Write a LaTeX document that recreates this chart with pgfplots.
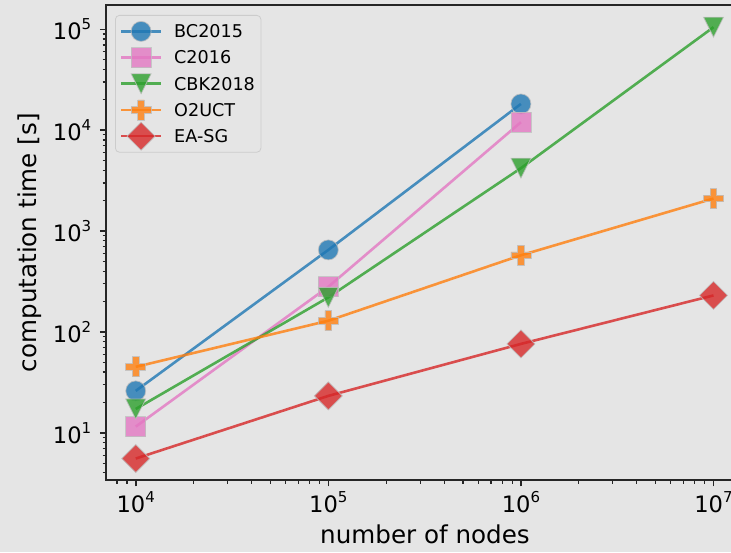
\documentclass[border=0pt]{standalone}
\usepackage{fontspec}
\setmainfont{DejaVu Sans}
\usepackage{pgfplots}
\pgfplotsset{compat=1.18}
\definecolor{bg}{RGB}{229,229,229}
\definecolor{cblue}{HTML}{1F77B4}
\definecolor{cpink}{HTML}{E377C2}
\definecolor{cgreen}{HTML}{2CA02C}
\definecolor{corange}{HTML}{FF7F0E}
\definecolor{cred}{HTML}{D62728}

\pgfdeclareplotmark{mplP}{%
  \pgfmathsetlengthmacro\pa{\pgfplotmarksize}%
  \pgfmathsetlengthmacro\pb{\pgfplotmarksize/3}%
  \pgfpathmoveto{\pgfqpoint{-\pb}{\pa}}%
  \pgfpathlineto{\pgfqpoint{\pb}{\pa}}%
  \pgfpathlineto{\pgfqpoint{\pb}{\pb}}%
  \pgfpathlineto{\pgfqpoint{\pa}{\pb}}%
  \pgfpathlineto{\pgfqpoint{\pa}{-\pb}}%
  \pgfpathlineto{\pgfqpoint{\pb}{-\pb}}%
  \pgfpathlineto{\pgfqpoint{\pb}{-\pa}}%
  \pgfpathlineto{\pgfqpoint{-\pb}{-\pa}}%
  \pgfpathlineto{\pgfqpoint{-\pb}{-\pb}}%
  \pgfpathlineto{\pgfqpoint{-\pa}{-\pb}}%
  \pgfpathlineto{\pgfqpoint{-\pa}{\pb}}%
  \pgfpathlineto{\pgfqpoint{-\pb}{\pb}}%
  \pgfpathclose\pgfusepathqfillstroke}
\pgfdeclareplotmark{mplv}{%
  \pgfmathsetlengthmacro\pa{\pgfplotmarksize}%
  \pgfpathmoveto{\pgfqpoint{0pt}{-\pa}}%
  \pgfpathlineto{\pgfqpoint{-\pa}{\pa}}%
  \pgfpathlineto{\pgfqpoint{\pa}{\pa}}%
  \pgfpathclose\pgfusepathqfillstroke}
\pgfdeclareplotmark{mplD}{%
  \pgfmathsetlengthmacro\pa{\pgfplotmarksize}%
  \pgfpathmoveto{\pgfqpoint{0pt}{\pa}}%
  \pgfpathlineto{\pgfqpoint{\pa}{0pt}}%
  \pgfpathlineto{\pgfqpoint{0pt}{-\pa}}%
  \pgfpathlineto{\pgfqpoint{-\pa}{0pt}}%
  \pgfpathclose\pgfusepathqfillstroke}

\newcommand{\tp}[1]{10\raisebox{5pt}{\fontsize{7.5}{8}\selectfont#1}}

\begin{document}
\begin{tikzpicture}
\fill[bg] (-53.15pt,-36pt) rectangle (312.35pt,240pt);
\begin{axis}[
  at={(0,0)}, anchor=south west,
  scale only axis, width=318.7pt, height=237.35pt,
  xmode=log, ymode=log,
  xmin=7035, xmax=1.435e7, ymin=3.40, ymax=1.73e5,
  axis background/.style={fill=bg},
  axis line style={black!85, line width=1pt},
  tick align=outside, tick pos=left,
  major tick length=3.2pt, minor tick length=1.8pt,
  every major tick/.style={black!85, line width=0.8pt},
  every minor tick/.style={black!85, line width=0.6pt},
  xtick={1e4,1e5,1e6,1e7}, xticklabels={\tp{4},\tp{5},\tp{6},\tp{7}},
  ytick={10,100,1000,10000,100000}, yticklabels={\tp{1},\tp{2},\tp{3},\tp{4},\tp{5}},
  minor xtick={8000,9000,20000,30000,40000,50000,60000,70000,80000,90000,
    200000,300000,400000,500000,600000,700000,800000,900000,
    2000000,3000000,4000000,5000000,6000000,7000000,8000000,9000000},
  minor ytick={4,5,6,7,8,9,20,30,40,50,60,70,80,90,200,300,400,500,600,700,800,900,
    2000,3000,4000,5000,6000,7000,8000,9000,20000,30000,40000,50000,60000,70000,80000,90000},
  ticklabel style={font=\fontsize{11.3}{13}\selectfont},
  xticklabel style={anchor=base, yshift=-13.1pt},
  yticklabel style={xshift=-0.8pt},
  every axis x label/.style={at={([yshift=-31.7pt]axis description cs:0.5,0)}, anchor=base},
  every axis y label/.style={at={([xshift=-34.7pt]axis description cs:0,0.5)}, rotate=90, anchor=base},
  label style={font=\fontsize{12.3}{14}\selectfont},
  xlabel={number of nodes}, ylabel={computation time [s]},
  legend style={at={(0,1)}, anchor=north west, xshift=4.35pt, yshift=-4.85pt,
    draw=black!20, fill=bg, rounded corners=2pt, inner xsep=3pt, inner ysep=4.8pt,
    row sep=6.7pt, column sep=6.7pt, font=\fontsize{8.8}{10}\selectfont,
    nodes={inner sep=0pt, text height=6.4pt, text depth=0pt, anchor=west}},
  legend image code/.code={
    \draw[overlay, sharp corners, mark repeat=2, mark phase=2] plot coordinates {(0pt,0pt) (9.85pt,0pt) (19.7pt,0pt)};
    \path[draw=none, fill=none] (0pt,-3pt) rectangle (19.7pt,3pt);
  },
  every axis plot/.append style={line width=1.3pt, opacity=0.8},
]
\addplot[cblue, mark=*, mark size=5pt, mark options={fill=cblue, draw=black!25, line width=0.4pt}]
  coordinates {(1e4,26) (1e5,650) (1e6,18200)};
\addplot[cpink, mark=square*, mark size=5pt, mark options={fill=cpink, draw=black!25, line width=0.4pt}]
  coordinates {(1e4,11.5) (1e5,280) (1e6,12000)};
\addplot[cgreen, mark=mplv, mark size=5pt, mark options={fill=cgreen, draw=black!25, line width=0.4pt}]
  coordinates {(1e4,17.2) (1e5,220) (1e6,4200) (1e7,105000)};
\addplot[corange, mark=mplP, mark size=5pt, mark options={fill=corange, draw=black!25, line width=0.4pt}]
  coordinates {(1e4,45) (1e5,129) (1e6,575) (1e7,2100)};
\addplot[cred, mark=mplD, mark size=7pt, mark options={fill=cred, draw=black!25, line width=0.4pt}]
  coordinates {(1e4,5.55) (1e5,23.2) (1e6,76) (1e7,230)};
\legend{BC2015,C2016,CBK2018,O2UCT,EA-SG}
\end{axis}
\pgfresetboundingbox
\path[use as bounding box] (-53.15pt,-36pt) rectangle (312.35pt,240pt);
\end{tikzpicture}
\end{document}
